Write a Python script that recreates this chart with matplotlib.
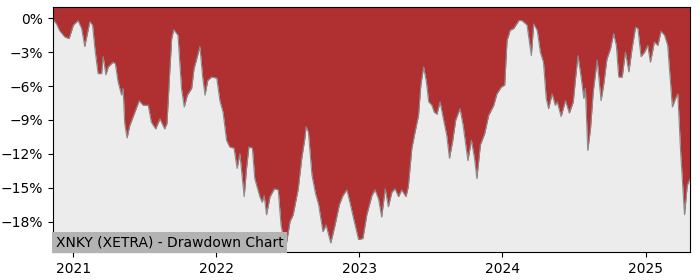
import pandas as pd
import numpy as np
import matplotlib.pyplot as plt
import matplotlib.dates as mdates
from matplotlib.ticker import FuncFormatter, MultipleLocator

# Drawdown (%)
dates = [
    "2020-11-10", "2020-11-19", "2020-11-27", "2020-12-10", "2020-12-21", "2021-01-01",
    "2021-01-13", "2021-01-22", "2021-01-30", "2021-02-12", "2021-02-19", "2021-02-25",
    "2021-03-05", "2021-03-14", "2021-03-18", "2021-03-25", "2021-03-31", "2021-04-12",
    "2021-04-18", "2021-04-25", "2021-05-04", "2021-05-08", "2021-05-12", "2021-05-18",
    "2021-05-25", "2021-06-07", "2021-06-18", "2021-06-28", "2021-07-11", "2021-07-19",
    "2021-07-30", "2021-08-10", "2021-08-22", "2021-08-28", "2021-09-04", "2021-09-09",
    "2021-09-14", "2021-09-25", "2021-10-04", "2021-10-11", "2021-10-19", "2021-10-30",
    "2021-11-05", "2021-11-11", "2021-11-20", "2021-11-27", "2021-12-03", "2021-12-10",
    "2021-12-20", "2022-01-02", "2022-01-10", "2022-01-18", "2022-01-27", "2022-02-04",
    "2022-02-15", "2022-02-23", "2022-03-02", "2022-03-13", "2022-03-19", "2022-03-25",
    "2022-04-03", "2022-04-09", "2022-04-22", "2022-04-28", "2022-05-03", "2022-05-09",
    "2022-05-18", "2022-05-29", "2022-06-08", "2022-06-15", "2022-06-23", "2022-06-29",
    "2022-07-08", "2022-07-16", "2022-07-29", "2022-08-07", "2022-08-15", "2022-08-18",
    "2022-08-24", "2022-09-02", "2022-09-11", "2022-09-19", "2022-09-30", "2022-10-08",
    "2022-10-20", "2022-10-31", "2022-11-11", "2022-11-20", "2022-11-30", "2022-12-08",
    "2022-12-17", "2022-12-30", "2023-01-10", "2023-01-20", "2023-02-02", "2023-02-10",
    "2023-02-19", "2023-02-27", "2023-03-08", "2023-03-16", "2023-03-25", "2023-04-02",
    "2023-04-11", "2023-04-19", "2023-04-30", "2023-05-06", "2023-05-15", "2023-05-23",
    "2023-06-01", "2023-06-07", "2023-06-14", "2023-06-21", "2023-06-27", "2023-07-05",
    "2023-07-11", "2023-07-18", "2023-07-26", "2023-08-04", "2023-08-12", "2023-08-19",
    "2023-08-27", "2023-09-04", "2023-09-15", "2023-09-23", "2023-10-05", "2023-10-14",
    "2023-10-22", "2023-10-28", "2023-11-06", "2023-11-17", "2023-11-27", "2023-12-10",
    "2023-12-18", "2023-12-29", "2024-01-07", "2024-01-13", "2024-01-21", "2024-01-30",
    "2024-02-12", "2024-02-20", "2024-03-04", "2024-03-15", "2024-03-21", "2024-03-30",
    "2024-04-07", "2024-04-15", "2024-04-22", "2024-04-28", "2024-05-07", "2024-05-15",
    "2024-05-20", "2024-05-30", "2024-06-10", "2024-06-20", "2024-06-30", "2024-07-05",
    "2024-07-12", "2024-07-20", "2024-07-27", "2024-07-31", "2024-08-06", "2024-08-13",
    "2024-08-20", "2024-08-30", "2024-09-09", "2024-09-16", "2024-09-24", "2024-10-03",
    "2024-10-11", "2024-10-18", "2024-10-24", "2024-11-02", "2024-11-10", "2024-11-19",
    "2024-11-27", "2024-12-06", "2024-12-12", "2024-12-20", "2024-12-29", "2025-01-06",
    "2025-01-13", "2025-01-23", "2025-02-01", "2025-02-09", "2025-02-18", "2025-02-26",
    "2025-03-10", "2025-03-18", "2025-03-24", "2025-03-31", "2025-04-10", "2025-04-17",
    "2025-04-24",
]
drawdown = [
    -0.1, -0.5, -1.1, -1.65, -1.8, -0.6,
    -0.2, -0.9, -2.5, -0.3, -0.6, -2.7,
    -4.9, -4.9, -3.4, -5.0, -4.3, -3.9,
    -4.0, -5.6, -6.8, -6.2, -9.3, -10.6,
    -9.5, -8.3, -7.3, -7.7, -7.7, -9.2,
    -9.8, -8.9, -9.8, -9.3, -4.75, -1.8,
    -1.0, -1.5, -6.2, -7.85, -6.8, -6.2,
    -4.45, -3.7, -2.5, -5.2, -6.8, -5.5,
    -5.2, -5.3, -7.3, -8.3, -10.8, -11.4,
    -11.5, -13.3, -12.0, -15.8, -13.3, -11.4,
    -11.5, -14.2, -15.8, -16.3, -15.7, -17.4,
    -15.8, -15.1, -15.2, -18.3, -19.8, -19.9,
    -18.0, -17.4, -15.1, -12.4, -10.6, -9.6,
    -10.1, -13.9, -15.5, -16.5, -18.9, -18.3,
    -19.9, -18.3, -16.5, -15.7, -15.2, -16.3,
    -17.7, -19.6, -19.5, -17.4, -15.7, -15.2,
    -16.0, -17.6, -15.1, -16.7, -15.4, -15.1,
    -15.8, -15.2, -15.8, -14.9, -11.5, -10.1,
    -8.6, -5.9, -4.3, -5.6, -7.4, -7.7,
    -8.3, -8.5, -7.4, -9.0, -10.35, -12.4,
    -10.9, -9.0, -8.0, -9.5, -12.6, -10.8,
    -12.4, -14.2, -11.2, -10.2, -8.6, -7.7,
    -6.7, -6.1, -5.9, -1.95, -1.06, -0.9,
    -0.2, -0.2, -0.6, -3.3, -0.5, -1.06,
    -3.0, -3.9, -7.1, -8.0, -6.7, -7.7,
    -7.4, -8.7, -7.3, -8.4, -7.4, -5.6,
    -3.3, -5.2, -7.1, -6.2, -11.7, -9.8,
    -6.5, -3.7, -7.3, -5.8, -3.6, -2.7,
    -1.36, -2.4, -5.2, -5.2, -3.0, -4.75,
    -2.7, -0.8, -0.9, -3.4, -3.0, -2.4,
    -3.9, -2.1, -2.4, -1.15, -1.5, -2.4,
    -7.85, -7.1, -6.7, -11.8, -17.4, -14.8,
    -14.2,
]
y_ticks = [0, -3, -6, -9, -12, -15, -18]
title = "XNKY (XETRA) - Drawdown Chart"

dates = pd.to_datetime(dates)
dd = np.array(drawdown)

fig = plt.figure(figsize=(7, 2.8), dpi=100)
ax = fig.add_axes([0.0757, 0.1, 0.91, 0.875])
ax.set_facecolor('#ececec')

y_top, y_bottom = 1.0, -20.7
ax.fill_between(dates, dd, y_top, color='#b03031', linewidth=0)
ax.plot(dates, dd, color='#8a8a8a', linewidth=0.8)

ax.set_xlim(dates[0], dates[-1])
ax.set_ylim(y_bottom, y_top)
ax.set_yticks(y_ticks)
ax.yaxis.set_major_formatter(FuncFormatter(lambda v, p: f"{v:.0f}%".replace('-', '\u2212')))
ax.xaxis.set_major_locator(mdates.YearLocator())
ax.xaxis.set_major_formatter(mdates.DateFormatter('%Y'))
ax.tick_params(labelsize=10)

ax.text(0.004, 0.012, title, transform=ax.transAxes, fontsize=10, ha='left', va='bottom',
        bbox=dict(facecolor='#b3b3b3', edgecolor='none', pad=2.5))

plt.savefig('out.png', dpi=100)
